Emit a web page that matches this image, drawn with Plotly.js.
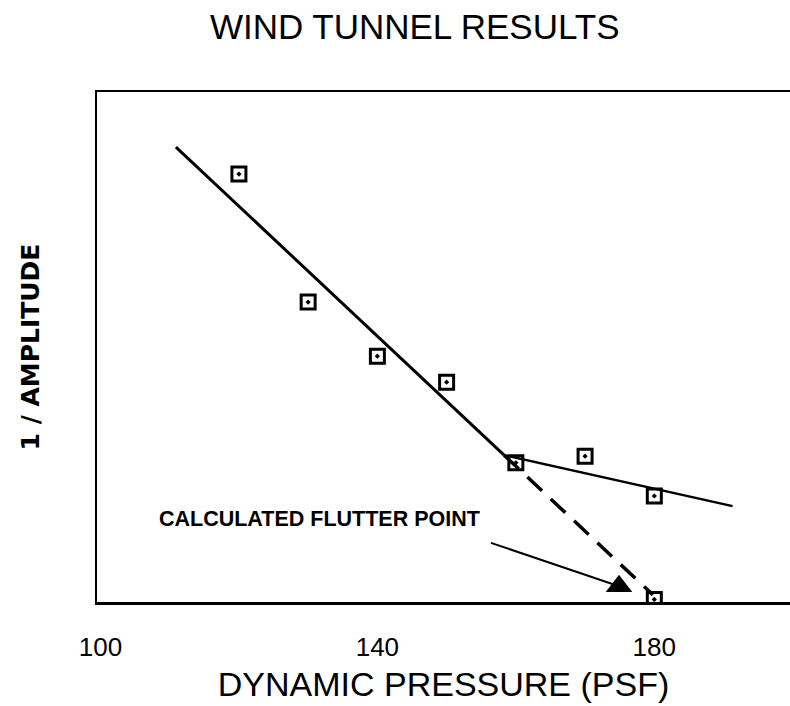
<!DOCTYPE html>
<html>
<head>
<meta charset="utf-8">
<script src="https://cdn.plot.ly/plotly-3.0.1.min.js"></script>
<style>html,body{margin:0;padding:0;background:#fff;}#chart{width:790px;height:706px;}</style>
</head>
<body>
<div id="chart"></div>
<script>
// Measured wind tunnel points
const pressure = [120, 130, 140, 150, 160, 170, 180, 180];
const invAmplitude = [8.39, 5.88, 4.82, 4.31, 2.73, 2.86, 2.08, 0.05];

// Fitted lines
const fitUpperX = [110.9, 158.3];
const fitUpperY = [8.92, 2.88];
const fitLowerX = [158.3, 191.3];
const fitLowerY = [2.88, 1.88];
const extrapX = [158.3, 179.8];
const extrapY = [2.88, 0.14];

// Calculated flutter point and its pointer line
const flutterX = [174.9];
const flutterY = [0.31];
const pointerX = [156.4, 174.9];
const pointerY = [1.16, 0.31];
const labelPos = [108.2, 1.62];

const tickVals = [100, 140, 180];
const tickText = ['100', '140', '180'];

const traces = [
  {x: fitUpperX, y: fitUpperY, mode: 'lines', line: {color: '#000', width: 3}, hoverinfo: 'skip'},
  {x: fitLowerX, y: fitLowerY, mode: 'lines', line: {color: '#000', width: 2.5}, hoverinfo: 'skip'},
  {x: extrapX, y: extrapY, mode: 'lines', line: {color: '#000', width: 3.5, dash: '20px,12px'}, hoverinfo: 'skip'},
  {x: pointerX, y: pointerY, mode: 'lines', line: {color: '#000', width: 2}, hoverinfo: 'skip'},
  {x: flutterX, y: flutterY, mode: 'markers', marker: {symbol: 'triangle-up', size: 23, color: '#000'}},
  {x: pressure, y: invAmplitude, mode: 'markers',
   marker: {symbol: 'square-open-dot', size: 14, color: '#000', line: {color: '#000', width: 3}}}
];

const layout = {
  width: 790, height: 706,
  margin: {l: 97, r: 0, t: 92, b: 104},
  paper_bgcolor: '#fff', plot_bgcolor: '#fff',
  showlegend: false,
  title: {text: 'WIND TUNNEL RESULTS', x: 0.525, xanchor: 'center', y: 0.962, yanchor: 'middle',
          font: {family: 'Liberation Sans, Arial, sans-serif', size: 35, color: '#000'}},
  xaxis: {
    range: [99.5, 199.6], showgrid: false, zeroline: false,
    showline: true, linecolor: '#000', linewidth: 2.5, mirror: true,
    tickvals: tickVals, ticktext: tickText, ticks: '', ticklabelstandoff: 20,
    tickfont: {family: 'Liberation Sans, Arial, sans-serif', size: 26, color: '#000'},
    title: {text: 'DYNAMIC PRESSURE (PSF)', standoff: 12,
            font: {family: 'Liberation Sans, Arial, sans-serif', size: 34, color: '#000'}}
  },
  yaxis: {
    range: [0, 10], showgrid: false, zeroline: false,
    showline: true, linecolor: '#000', linewidth: 2.5, mirror: false,
    showticklabels: false, ticks: '',
    title: {text: '1 / AMPLITUDE', standoff: 48,
            font: {family: 'DejaVu Sans, sans-serif', size: 25, color: '#000', weight: 'bold'}}
  },
  annotations: [
    {x: labelPos[0], y: labelPos[1], xref: 'x', yref: 'y', text: '<b>CALCULATED FLUTTER POINT</b>',
     showarrow: false, xanchor: 'left', yanchor: 'middle',
     font: {family: 'Liberation Sans, Arial, sans-serif', size: 21.5, color: '#000'}}
  ]
};

Plotly.newPlot('chart', traces, layout, {displayModeBar: false, staticPlot: true});
</script>
</body>
</html>
